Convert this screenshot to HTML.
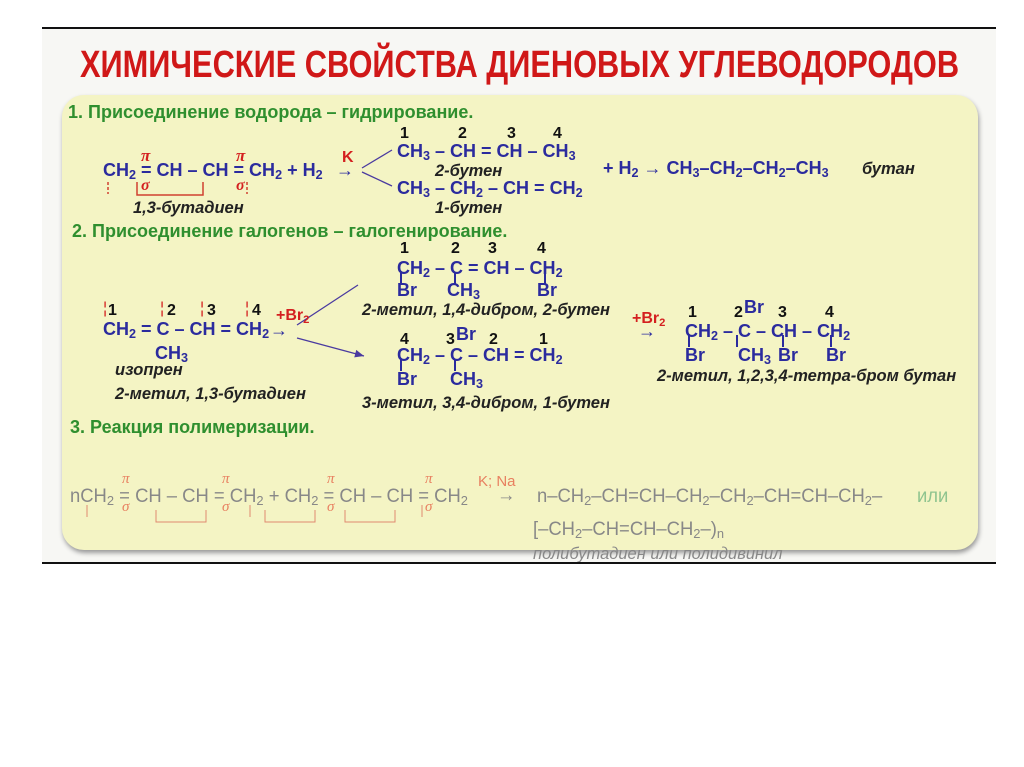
<!DOCTYPE html>
<html><head><meta charset="utf-8"><style>
body{margin:0;width:1024px;height:767px;background:#fff;position:relative;overflow:hidden;font-family:"Liberation Sans",sans-serif}
.a{position:absolute;white-space:nowrap;line-height:1}
.f{color:#2b2b9e;font-weight:bold;font-size:18px}
.n{color:#111;font-weight:bold;font-size:16px}
.i{color:#222;font-weight:bold;font-style:italic;font-size:16.5px}
.g{color:#2f8f2f;font-weight:bold;font-size:18px}
.r{color:#d42020;font-weight:bold;font-size:16px}
sub{font-size:70%;vertical-align:-3px;line-height:0}
.p{color:#888;font-size:19px;transform:scaleX(0.97);transform-origin:left}
.o{color:#e88060;font-family:"Liberation Serif",serif;font-style:italic;font-size:15px}
</style></head><body>
<div class="a" style="left:42px;top:29px;width:954px;height:534px;background:#f7f7f4"></div>
<div class="a" style="left:42px;top:27px;width:954px;height:2px;background:#111"></div>
<div class="a" style="left:62px;top:95px;width:916px;height:455px;background:#f4f4c4;border-radius:22px;box-shadow:1px 3px 5px #999"></div>
<div class="a" style="left:80px;top:46px;font-weight:bold;font-size:38px;color:#d01818;transform:scaleX(0.81);transform-origin:left">ХИМИЧЕСКИЕ СВОЙСТВА ДИЕНОВЫХ УГЛЕВОДОРОДОВ</div>

<div class="a g" style="left:68px;top:103px">1. Присоединение водорода – гидрирование.</div>
<div class="a n" style="left:400px;top:126px">1</div><div class="a n" style="left:458px;top:126px">2</div><div class="a n" style="left:507px;top:126px">3</div><div class="a n" style="left:553px;top:126px">4</div>
<div class="a f" style="left:397px;top:142px">CH<sub>3</sub> – CH = CH – CH<sub>3</sub></div>
<div class="a i" style="left:435px;top:163px">2-бутен</div>
<div class="a f" style="left:103px;top:161px">CH<sub>2</sub> = CH – CH = CH<sub>2</sub> + H<sub>2</sub></div>
<div class="a r" style="left:141px;top:147px;font-family:'Liberation Serif';font-style:italic;font-size:17px">π</div>
<div class="a r" style="left:236px;top:147px;font-family:'Liberation Serif';font-style:italic;font-size:17px">π</div>
<div class="a r" style="left:141px;top:178px;font-family:'Liberation Serif';font-style:italic;font-size:16px">σ</div>
<div class="a r" style="left:236px;top:178px;font-family:'Liberation Serif';font-style:italic;font-size:16px">σ</div>
<div class="a r" style="left:342px;top:150px">K</div>
<div class="a f" style="left:336px;top:161px">→</div>
<svg class="a" style="left:0;top:0" width="1024" height="767">
<defs><marker id="m" markerWidth="8" markerHeight="8" refX="7" refY="4" orient="auto"><path d="M0 1L7 4L0 7z" fill="#4a3aa0"/></marker></defs>
<g stroke="#d04030" stroke-width="1.5" fill="none" stroke-dasharray="3,2">
<path d="M108 182v12M247 182v12"/></g>
<path d="M137 182v13h66v-13" stroke="#d04030" stroke-width="1.5" fill="none"/>
<g stroke="#4a3aa0" stroke-width="1.3" fill="none" marker-end="url(#m)">
<path d="M362 168L392 150M362 172L392 186M297 325L358 285M297 338L364 356"/></g>
<g stroke="#2b2b9e" stroke-width="2"><path d="M401 273v12M455 273v12M545 273v12M401 359v12M455 359v12M689 335v12M737 335v12M783 335v12M831 335v12"/></g>
<g stroke="#e08a70" stroke-width="1" fill="none"><path d="M87 505v12M250 505v12M422 505v12M156 510v12h50v-12M265 510v12h50v-12M345 510v12h50v-12"/></g>
</svg>
<div class="a f" style="left:397px;top:179px">CH<sub>3</sub> – CH<sub>2</sub> – CH = CH<sub>2</sub></div>
<div class="a i" style="left:435px;top:200px">1-бутен</div>
<div class="a i" style="left:133px;top:200px">1,3-бутадиен</div>
<div class="a f" style="left:603px;top:159px">+ H<sub>2</sub> → CH<sub>3</sub>–CH<sub>2</sub>–CH<sub>2</sub>–CH<sub>3</sub></div>
<div class="a i" style="left:862px;top:161px">бутан</div>

<div class="a g" style="left:72px;top:222px">2. Присоединение галогенов – галогенирование.</div>
<div class="a n" style="left:400px;top:241px">1</div><div class="a n" style="left:451px;top:241px">2</div><div class="a n" style="left:488px;top:241px">3</div><div class="a n" style="left:537px;top:241px">4</div>
<div class="a f" style="left:397px;top:259px">CH<sub>2</sub> – C = CH – CH<sub>2</sub></div>
<div class="a f" style="left:397px;top:281px">Br</div><div class="a f" style="left:447px;top:281px">CH<sub>3</sub></div><div class="a f" style="left:537px;top:281px">Br</div>
<div class="a i" style="left:362px;top:302px">2-метил, 1,4-дибром, 2-бутен</div>
<div class="a n" style="left:108px;top:303px">1</div><div class="a n" style="left:167px;top:303px">2</div><div class="a n" style="left:207px;top:303px">3</div><div class="a n" style="left:252px;top:303px">4</div>
<div class="a r" style="left:103px;top:301px;font-weight:normal">¦</div><div class="a r" style="left:160px;top:301px;font-weight:normal">¦</div><div class="a r" style="left:200px;top:301px;font-weight:normal">¦</div><div class="a r" style="left:245px;top:301px;font-weight:normal">¦</div>
<div class="a f" style="left:103px;top:320px">CH<sub>2</sub> = C – CH = CH<sub>2</sub></div>
<div class="a f" style="left:155px;top:344px">CH<sub>3</sub></div>
<div class="a i" style="left:115px;top:362px">изопрен</div>
<div class="a i" style="left:115px;top:386px">2-метил, 1,3-бутадиен</div>
<div class="a r" style="left:276px;top:308px">+Br<sub>2</sub></div>
<div class="a f" style="left:270px;top:321px">→</div>
<div class="a n" style="left:400px;top:332px">4</div><div class="a n" style="left:446px;top:332px">3</div><div class="a f" style="left:456px;top:325px">Br</div><div class="a n" style="left:489px;top:332px">2</div><div class="a n" style="left:539px;top:332px">1</div>
<div class="a f" style="left:397px;top:346px">CH<sub>2</sub> – C – CH = CH<sub>2</sub></div>
<div class="a f" style="left:397px;top:370px">Br</div><div class="a f" style="left:450px;top:370px">CH<sub>3</sub></div>
<div class="a i" style="left:362px;top:395px">3-метил, 3,4-дибром, 1-бутен</div>
<div class="a r" style="left:632px;top:311px">+Br<sub>2</sub></div>
<div class="a f" style="left:638px;top:322px">→</div>
<div class="a n" style="left:688px;top:305px">1</div><div class="a n" style="left:734px;top:305px">2</div><div class="a f" style="left:744px;top:298px">Br</div><div class="a n" style="left:778px;top:305px">3</div><div class="a n" style="left:825px;top:305px">4</div>
<div class="a f" style="left:685px;top:322px">CH<sub>2</sub> – C – CH – CH<sub>2</sub></div>
<div class="a f" style="left:685px;top:346px">Br</div><div class="a f" style="left:738px;top:346px">CH<sub>3</sub></div><div class="a f" style="left:778px;top:346px">Br</div><div class="a f" style="left:826px;top:346px">Br</div>
<div class="a i" style="left:657px;top:368px">2-метил, 1,2,3,4-тетра-бром бутан</div>

<div class="a g" style="left:70px;top:418px">3. Реакция полимеризации.</div>
<div class="a p" style="left:70px;top:487px">nCH<sub>2</sub> = CH – CH = CH<sub>2</sub> + CH<sub>2</sub> = CH – CH = CH<sub>2</sub></div>
<div class="a o" style="left:122px;top:472px">π</div><div class="a o" style="left:222px;top:472px">π</div><div class="a o" style="left:327px;top:472px">π</div><div class="a o" style="left:425px;top:472px">π</div>
<div class="a o" style="left:122px;top:500px">σ</div><div class="a o" style="left:222px;top:500px">σ</div><div class="a o" style="left:327px;top:500px">σ</div><div class="a o" style="left:425px;top:500px">σ</div>
<div class="a" style="left:478px;top:474px;color:#e88060;font-size:15px">K; Na</div>
<div class="a p" style="left:497px;top:486px">→</div>
<div class="a p" style="left:537px;top:487px">n–CH<sub>2</sub>–CH=CH–CH<sub>2</sub>–CH<sub>2</sub>–CH=CH–CH<sub>2</sub>–</div>
<div class="a p" style="left:917px;top:487px;color:#8fc48f">или</div>
<div class="a p" style="left:533px;top:520px">[–CH<sub>2</sub>–CH=CH–CH<sub>2</sub>–)<sub>n</sub></div>
<div class="a p" style="left:533px;top:545px;font-style:italic;font-size:17px">полибутадиен или полидивинил</div>
<div class="a" style="left:42px;top:562px;width:954px;height:2px;background:#111"></div>
</body></html>
